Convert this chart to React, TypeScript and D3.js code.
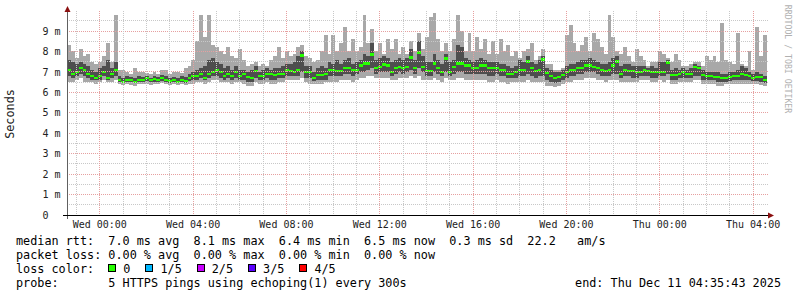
import React from 'react';
import * as d3 from 'd3';

// ---- data (ms), one value per 10-minute step over the last 30 hours ----
const END = Date.UTC(2025, 11, 11, 4, 35, 43);
const SPAN = 30 * 3600 * 1000;
const STEP = 600 * 1000;

const median = [
  7.1, 6.9, 7.0, 7.2, 7.1, 6.9, 6.8, 6.7, 6.8, 7.0,
  6.7, 6.9, 7.1, 6.6, 6.5, 6.6, 6.6, 6.5, 6.6, 6.6,
  6.7, 6.6, 6.65, 6.6, 6.7, 6.6, 6.55, 6.6, 6.5, 6.6,
  6.55, 6.7, 6.8, 6.8, 6.9, 6.7, 6.9, 7.0, 7.1, 7.0,
  6.8, 6.9, 6.8, 7.0, 6.8, 6.9, 6.75, 6.7, 7.05, 6.8,
  6.8, 6.9, 6.9, 6.85, 6.9, 6.9, 7.1, 7.05, 7.0, 7.1,
  7.8, 7.0, 7.0, 6.7, 6.85, 6.85, 6.9, 7.1, 7.1, 7.05,
  7.05, 7.2, 7.2, 7.1, 7.1, 7.3, 7.4, 7.4, 7.85, 7.2,
  7.25, 7.35, 7.3, 7.0, 7.2, 7.25, 7.2, 7.25, 7.7, 7.2,
  7.95, 7.25, 7.05, 7.05, 7.4, 7.2, 7.0, 7.65, 7.0, 7.25,
  7.4, 7.4, 7.3, 7.3, 7.2, 7.2, 7.3, 7.3, 7.2, 7.2,
  7.2, 7.1, 7.1, 6.9, 6.9, 7.0, 7.1, 7.1, 7.5, 7.2,
  7.05, 7.1, 7.6, 6.95, 6.8, 6.7, 6.75, 6.85, 7.0, 7.1,
  7.1, 7.2, 7.2, 7.3, 7.3, 7.25, 7.2, 7.1, 7.05, 7.1,
  7.3, 7.5, 6.9, 7.1, 7.05, 7.05, 7.0, 7.0, 7.1, 7.05,
  7.0, 7.0, 7.0, 7.0, 7.45, 6.85, 6.85, 6.9, 7.0, 6.9,
  6.9, 7.25, 7.2, 6.85, 6.8, 6.8, 6.75, 6.75, 6.7, 6.7,
  6.75, 6.8, 6.8, 6.9, 6.85, 6.8, 6.7, 6.75, 6.75, 6.6,
];

const pingMin = [
  6.5, 6.5, 6.6, 6.7, 6.5, 6.5, 6.5, 6.4, 6.5, 6.6,
  6.5, 6.5, 6.6, 6.4, 6.35, 6.4, 6.35, 6.3, 6.4, 6.4,
  6.4, 6.35, 6.4, 6.4, 6.45, 6.4, 6.35, 6.4, 6.35, 6.4,
  6.35, 6.4, 6.4, 6.5, 6.5, 6.4, 6.5, 6.6, 6.6, 6.5,
  6.5, 6.5, 6.4, 6.5, 6.5, 6.4, 6.3, 6.3, 6.5, 6.4,
  6.4, 6.5, 6.4, 6.4, 6.5, 6.5, 6.6, 6.6, 6.6, 6.6,
  6.7, 6.5, 6.4, 6.4, 6.4, 6.4, 6.5, 6.5, 6.5, 6.5,
  6.6, 6.6, 6.6, 6.5, 6.6, 6.7, 6.7, 6.8, 6.8, 6.7,
  6.7, 6.7, 6.7, 6.6, 6.6, 6.7, 6.7, 6.7, 6.8, 6.7,
  6.8, 6.6, 6.6, 6.6, 6.7, 6.6, 6.5, 6.7, 6.6, 6.6,
  6.7, 6.7, 6.6, 6.6, 6.6, 6.6, 6.6, 6.6, 6.5, 6.5,
  6.6, 6.5, 6.5, 6.4, 6.5, 6.5, 6.5, 6.5, 6.6, 6.5,
  6.5, 6.5, 6.5, 6.3, 6.3, 6.25, 6.3, 6.4, 6.5, 6.5,
  6.6, 6.6, 6.6, 6.7, 6.7, 6.7, 6.6, 6.6, 6.5, 6.6,
  6.6, 6.6, 6.5, 6.5, 6.5, 6.5, 6.5, 6.6, 6.6, 6.6,
  6.5, 6.5, 6.6, 6.5, 6.6, 6.4, 6.4, 6.5, 6.5, 6.5,
  6.5, 6.6, 6.6, 6.4, 6.4, 6.4, 6.4, 6.3, 6.3, 6.4,
  6.4, 6.4, 6.4, 6.4, 6.4, 6.4, 6.4, 6.4, 6.35, 6.3,
];

const pingLowMid = [
  6.8, 6.7, 6.8, 6.9, 6.8, 6.7, 6.6, 6.6, 6.6, 6.8,
  6.6, 6.7, 6.8, 6.5, 6.45, 6.5, 6.5, 6.45, 6.5, 6.5,
  6.55, 6.5, 6.5, 6.5, 6.55, 6.5, 6.45, 6.5, 6.45, 6.5,
  6.45, 6.55, 6.6, 6.6, 6.7, 6.6, 6.7, 6.8, 6.8, 6.7,
  6.6, 6.7, 6.6, 6.7, 6.6, 6.6, 6.5, 6.5, 6.7, 6.6,
  6.6, 6.7, 6.6, 6.6, 6.7, 6.7, 6.8, 6.8, 6.8, 6.8,
  7.0, 6.7, 6.7, 6.55, 6.6, 6.6, 6.6, 6.8, 6.8, 6.8,
  6.8, 6.9, 6.9, 6.8, 6.9, 7.0, 7.0, 7.1, 7.2, 6.9,
  7.0, 7.0, 7.0, 6.8, 6.9, 7.0, 6.9, 7.0, 7.1, 6.9,
  7.2, 7.0, 6.8, 6.8, 7.0, 6.9, 6.8, 7.0, 6.8, 6.9,
  7.0, 7.0, 6.9, 6.9, 6.9, 6.9, 6.9, 6.9, 6.8, 6.8,
  6.9, 6.8, 6.8, 6.7, 6.7, 6.7, 6.8, 6.8, 6.9, 6.8,
  6.7, 6.8, 6.8, 6.6, 6.5, 6.45, 6.5, 6.6, 6.7, 6.8,
  6.8, 6.9, 6.9, 7.0, 7.0, 7.0, 6.9, 6.8, 6.8, 6.8,
  6.9, 6.9, 6.7, 6.8, 6.8, 6.7, 6.7, 6.8, 6.8, 6.8,
  6.7, 6.7, 6.8, 6.8, 6.9, 6.6, 6.6, 6.7, 6.7, 6.7,
  6.7, 6.8, 6.8, 6.6, 6.6, 6.6, 6.6, 6.5, 6.5, 6.5,
  6.55, 6.6, 6.6, 6.6, 6.6, 6.6, 6.55, 6.55, 6.5, 6.45,
];

const pingHighMid = [
  7.6, 7.5, 7.4, 7.5, 7.4, 7.3, 7.1, 7.0, 7.2, 7.3,
  7.6, 7.2, 7.5, 6.8, 6.7, 6.8, 6.75, 6.7, 6.8, 6.75,
  6.8, 6.7, 6.8, 6.75, 6.85, 6.8, 6.7, 6.75, 6.7, 6.8,
  6.75, 6.9, 7.0, 7.1, 7.2, 7.3, 7.6, 7.7, 7.5, 7.4,
  7.2, 7.3, 7.1, 7.3, 7.1, 7.1, 7.0, 7.1, 7.3, 7.0,
  7.1, 7.2, 7.1, 7.2, 7.2, 7.3, 7.4, 7.4, 7.5, 7.8,
  8.0, 7.3, 7.3, 7.0, 7.2, 7.3, 7.2, 7.5, 7.4, 7.6,
  7.4, 7.6, 7.7, 7.4, 7.5, 7.6, 7.9, 7.8, 8.4, 7.6,
  7.7, 7.8, 7.7, 7.5, 7.6, 7.7, 7.6, 7.7, 8.1, 7.6,
  8.5, 7.8, 7.5, 7.5, 7.9, 7.6, 7.4, 7.9, 7.5, 7.6,
  8.3, 8.2, 7.7, 7.6, 7.5, 7.6, 7.7, 7.6, 7.5, 7.5,
  7.5, 7.4, 7.4, 7.3, 7.2, 7.3, 7.6, 7.5, 7.8, 7.5,
  7.4, 7.6, 7.8, 7.2, 7.1, 7.0, 7.0, 7.1, 7.3, 7.4,
  7.4, 7.5, 7.6, 7.6, 7.7, 7.6, 7.5, 7.4, 7.4, 7.5,
  7.7, 7.8, 7.3, 7.4, 7.4, 7.3, 7.3, 7.3, 7.3, 7.2,
  7.3, 7.2, 7.5, 7.5, 7.6, 7.1, 7.2, 7.1, 7.2, 7.1,
  7.2, 7.4, 7.3, 7.1, 7.0, 7.0, 7.0, 7.0, 6.9, 6.9,
  7.0, 7.0, 7.1, 7.3, 7.2, 7.0, 6.9, 7.0, 6.9, 6.8,
];

const pingMax = [
  8.3, 8.0, 7.7, 8.1, 7.8, 7.9, 7.5, 7.4, 7.5, 7.8,
  8.4, 7.5, 9.8, 7.1, 7.1, 7.0, 6.9, 7.2, 7.0, 7.0,
  6.95, 6.9, 7.0, 6.9, 7.1, 7.1, 6.9, 7.0, 7.0, 6.95,
  7.2, 7.3, 7.6, 8.5, 9.8, 8.7, 9.8, 8.3, 8.2, 8.0,
  7.9, 8.2, 7.8, 7.7, 8.1, 7.6, 7.3, 7.4, 7.5, 7.3,
  7.4, 7.3, 7.6, 7.8, 8.2, 7.7, 8.0, 7.8, 7.9, 8.2,
  8.3, 7.8, 7.7, 7.5, 7.6, 8.0, 8.8, 7.9, 8.8, 8.0,
  8.4, 9.2, 8.0, 8.6, 8.0, 8.2, 9.8, 8.4, 9.1, 8.0,
  8.4, 7.9, 8.6, 8.1, 8.6, 7.9, 8.2, 7.9, 8.5, 8.0,
  8.9, 8.1, 8.7, 9.7, 9.9, 8.6, 8.0, 8.4, 8.0, 8.6,
  9.8, 9.0, 8.0, 8.9, 8.0, 8.7, 8.1, 8.6, 7.9, 8.5,
  7.9, 8.6, 8.0, 8.3, 7.8, 8.0, 7.7, 8.0, 8.1, 8.4,
  7.6, 7.8, 8.1, 7.4, 7.4, 7.1, 7.1, 7.2, 8.8, 9.3,
  8.4, 8.0, 8.3, 8.7, 8.0, 8.9, 8.6, 8.2, 7.9, 9.8,
  8.7, 8.0, 7.9, 8.2, 7.8, 7.5, 8.1, 7.8, 7.6, 7.3,
  7.5, 7.5, 8.0, 7.9, 7.7, 7.5, 7.9, 7.6, 7.3, 7.3,
  7.4, 7.5, 7.5, 7.3, 7.8, 7.6, 7.8, 7.5, 9.4, 7.6,
  7.5, 7.4, 8.9, 7.4, 7.3, 8.0, 7.1, 9.2, 7.8, 8.8,
];

const yTickValues = [0, 1, 2, 3, 4, 5, 6, 7, 8, 9];
const yTickLabels = ['0', '1 m', '2 m', '3 m', '4 m', '5 m', '6 m', '7 m', '8 m', '9 m'];

const legendRtt = 'median rtt:  7.0 ms avg  8.1 ms max  6.4 ms min  6.5 ms now  0.3 ms sd  22.2   am/s';
const legendLoss = 'packet loss: 0.00 % avg  0.00 % max  0.00 % min  0.00 % now';
const legendColorTitle = 'loss color:';
const lossLabels = ['0', '1/5', '2/5', '3/5', '4/5'];
const lossColors = ['#26ff00', '#00b8ff', '#c800ff', '#5a00ff', '#ff0000'];
const legendProbe = 'probe:       5 HTTPS pings using echoping(1) every 300s';
const legendEnd = 'end: Thu Dec 11 04:35:43 2025';
const yAxisTitle = 'Seconds';
const watermark = 'RRDTOOL / TOBI OETIKER';

const MONO = "'DejaVu Sans Mono', 'Liberation Mono', monospace";

export default function App() {
  const W = 797;
  const H = 297;
  const left = 67;
  const right = 767;
  const bottom = 215;
  const top = 10.6;

  const start = END - SPAN;
  const x = d3.scaleUtc().domain([start, END]).range([left, right]);
  const y = d3.scaleLinear().domain([0, 10]).range([bottom, top]);

  const n = median.length;
  const idx = d3.range(n + 1);
  const tOf = (i: number) => start + i * STEP;
  const v = (arr: number[], i: number) => arr[Math.min(i, n - 1)];

  const band = (lo: number[], hi: number[]) =>
    d3
      .area<number>()
      .curve(d3.curveStepAfter)
      .x((i) => x(tOf(i)))
      .y0((i) => y(v(lo, i)))
      .y1((i) => y(v(hi, i)))(idx) || '';

  const lightPath = band(pingMin, pingMax);
  const darkPath = band(pingLowMid, pingHighMid);

  const hours = d3.utcHour.range(new Date(start), new Date(END));
  const halfSteps = d3.range(1, 20).map((k) => k * 0.5);
  const snap = (p: number) => Math.floor(p) + 0.5;

  const cw = 11.8 * 0.602;
  const lossItems: { box: number; label: number; text: string; color: string }[] = [];
  let cursor = 16 + 13 * cw;
  lossLabels.forEach((t, i) => {
    const box = cursor;
    const label = box + 15;
    lossItems.push({ box, label, text: t, color: lossColors[i] });
    cursor = label + t.length * cw + 15;
  });

  return (
    <svg
      width={W}
      height={H}
      style={{ position: 'absolute', left: 0, top: 0, background: '#fff' }}
      fontFamily={MONO}
    >
      <rect x={0} y={0} width={W} height={H} fill="#ffffff" />

      {/* smoke */}
      <path d={lightPath} fill="#a8a8a8" shapeRendering="crispEdges" />
      <path d={darkPath} fill="#4e4e4e" shapeRendering="crispEdges" />

      {/* median markers */}
      {median.map((m, i) => {
        const x0 = x(tOf(i));
        const x1 = x(tOf(i + 1));
        return (
          <rect
            key={i}
            x={x0}
            y={y(m) - 1.3}
            width={x1 - x0}
            height={2.6}
            fill={lossColors[0]}
            shapeRendering="crispEdges"
          />
        );
      })}

      {/* grid */}
      <g shapeRendering="crispEdges" strokeDasharray="1,1" strokeWidth={1}>
        {halfSteps.map((s) => (
          <line
            key={'h' + s}
            x1={left}
            x2={right + 1}
            y1={snap(y(s))}
            y2={snap(y(s))}
            stroke={Number.isInteger(s) ? '#e6a0a0' : '#c8c8c8'}
          />
        ))}
        {hours.map((h) => {
          const major = h.getUTCHours() % 4 === 0;
          const px = snap(x(h));
          return (
            <line
              key={'v' + h.getTime()}
              x1={px}
              x2={px}
              y1={11}
              y2={bottom}
              stroke={major ? '#e6a0a0' : '#c8c8c8'}
            />
          );
        })}
      </g>

      {/* axes */}
      <line x1={snap(left)} x2={snap(left)} y1={219} y2={11} stroke="#606060" shapeRendering="crispEdges" />
      <line x1={63} x2={769} y1={snap(bottom)} y2={snap(bottom)} stroke="#000" shapeRendering="crispEdges" />
      <path d={`M${left + 0.5},6 L${left + 3.5},12 L${left - 2.5},12 Z`} fill="#8b1010" />
      <path d={`M774,${bottom + 0.5} L768,${bottom - 2.5} L768,${bottom + 3.5} Z`} fill="#8b1010" />

      {/* y tick labels */}
      {yTickValues.map((t, i) => (
        <text key={'yt' + t} x={42.5} y={y(t) + 3.6} fontSize={10} fill="#222" xmlSpace="preserve">
          {yTickLabels[i]}
        </text>
      ))}

      {/* x tick labels */}
      {hours
        .filter((h) => h.getUTCHours() % 4 === 0)
        .map((h) => (
          <text key={'xt' + h.getTime()} x={x(h)} y={228} fontSize={10} fill="#222" textAnchor="middle">
            {d3.utcFormat('%a %H:%M')(h)}
          </text>
        ))}

      {/* axis title */}
      <text transform="translate(14,114) rotate(-90)" textAnchor="middle" fontSize={11.8} fill="#222">
        {yAxisTitle}
      </text>

      {/* watermark */}
      <text transform="translate(785,59) rotate(90)" textAnchor="middle" fontSize={8.2} fill="#b0b0b0">
        {watermark}
      </text>

      {/* legend */}
      <g fontSize={11.8} fill="#000" style={{ whiteSpace: 'pre' }}>
        <text x={16} y={245} xmlSpace="preserve">{legendRtt}</text>
        <text x={16} y={259} xmlSpace="preserve">{legendLoss}</text>
        <text x={16} y={273} xmlSpace="preserve">{legendColorTitle}</text>
        {lossItems.map((it) => (
          <g key={it.text}>
            <rect
              x={Math.round(it.box) + 0.5}
              y={264.5}
              width={7}
              height={7}
              fill={it.color}
              stroke="#000"
              strokeWidth={1}
              shapeRendering="crispEdges"
            />
            <text x={it.label} y={273}>{it.text}</text>
          </g>
        ))}
        <text x={16} y={287} xmlSpace="preserve">{legendProbe}</text>
        <text x={781} y={287} textAnchor="end">{legendEnd}</text>
      </g>
    </svg>
  );
}
